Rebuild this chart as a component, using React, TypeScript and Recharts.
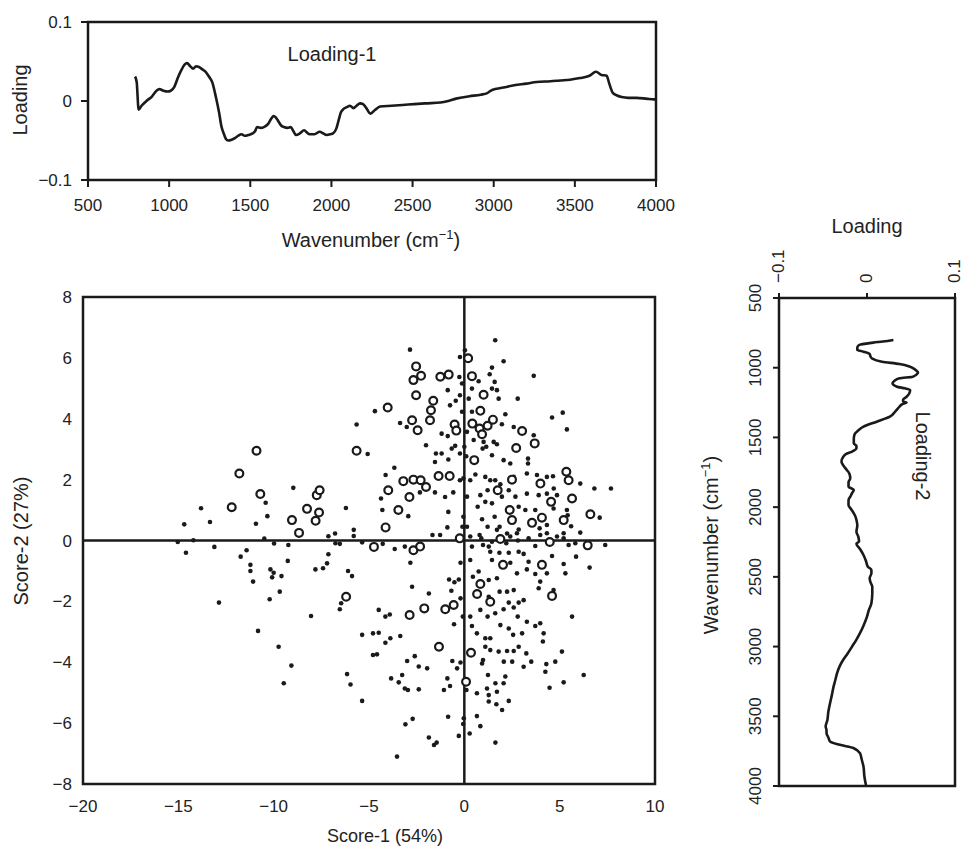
import React from 'react';
import {
  LineChart,
  Line,
  ScatterChart,
  Scatter,
  XAxis,
  YAxis,
  ReferenceArea,
  ReferenceLine,
} from 'recharts';

const FONT = "'Liberation Sans', Arial, Helvetica, sans-serif";
const INK = '#1a1a1a';
const TEXT = '#222';

// Loading-1 spectrum (wavenumber, loading)
const loading1Wavenumber = [
  790, 800, 812, 830, 860, 895, 922, 940, 965, 991, 1010, 1032, 1055, 1075, 1095, 1110, 1130, 1148, 1165, 1184,
  1205, 1225, 1245, 1267, 1288, 1308, 1322, 1336, 1350, 1363, 1385, 1405, 1425, 1446, 1466, 1488, 1515, 1530,
  1542, 1565, 1584, 1610, 1630, 1644, 1658, 1671, 1690, 1707, 1730, 1749, 1765, 1782, 1805, 1832, 1850, 1865,
  1895, 1928, 1950, 1970, 1995, 2010, 2030, 2045, 2057, 2075, 2092, 2115, 2135, 2155, 2176, 2195, 2215, 2240,
  2270, 2300, 2370, 2438, 2510, 2577, 2672, 2720, 2768, 2850, 2920, 2960, 2990, 3060, 3126, 3200, 3265, 3350,
  3408, 3470, 3532, 3590, 3630, 3665, 3696, 3712, 3735, 3760, 3788, 3830, 3880, 3940, 3988, 4000,
];
const loading1Values = [
  0.031, 0.024, -0.011, -0.006, 0.0, 0.006, 0.013, 0.015, 0.013, 0.012, 0.013, 0.018, 0.03, 0.039, 0.046, 0.048,
  0.044, 0.041, 0.044, 0.043, 0.04, 0.037, 0.031, 0.023, 0.005, -0.015, -0.032, -0.041, -0.048, -0.05, -0.049,
  -0.047, -0.044, -0.042, -0.044, -0.043, -0.041, -0.038, -0.033, -0.034, -0.033, -0.029, -0.022, -0.019, -0.021,
  -0.025, -0.031, -0.033, -0.034, -0.033, -0.038, -0.043, -0.041, -0.037, -0.04, -0.042, -0.042, -0.039, -0.041,
  -0.043, -0.042, -0.041, -0.035, -0.024, -0.015, -0.01, -0.008, -0.006, -0.009, -0.006, -0.003, -0.004, -0.009,
  -0.016, -0.011, -0.007, -0.006, -0.005, -0.004, -0.003, -0.002, 0.0, 0.003, 0.006, 0.008, 0.01, 0.014, 0.017,
  0.02, 0.022, 0.024, 0.025, 0.026, 0.027, 0.029, 0.032, 0.037, 0.033, 0.032, 0.022, 0.01, 0.007, 0.005, 0.004,
  0.004, 0.003, 0.002, 0.002,
];

// Loading-2 spectrum (wavenumber, loading)
const loading2Wavenumber = [
  801, 812, 820, 837, 855, 873, 885, 902, 920, 935, 957, 973, 993, 1015, 1035, 1050, 1064, 1076, 1095, 1112, 1136,
  1148, 1160, 1185, 1208, 1230, 1243, 1250, 1262, 1279, 1315, 1351, 1387, 1423, 1450, 1475, 1510, 1542, 1560, 1578,
  1602, 1620, 1638, 1674, 1700, 1733, 1760, 1793, 1820, 1853, 1877, 1900, 1925, 1950, 1984, 2015, 2044, 2070, 2092,
  2130, 2176, 2210, 2247, 2262, 2300, 2343, 2390, 2427, 2450, 2474, 2510, 2540, 2570, 2620, 2689, 2740, 2785, 2850,
  2904, 2950, 3000, 3050, 3095, 3140, 3191, 3240, 3287, 3350, 3406, 3470, 3526, 3574, 3600, 3621, 3650, 3681, 3705,
  3729, 3765, 3810, 3860, 3930, 4000,
];
const loading2Values = [
  0.03, 0.018, 0.007, -0.009, -0.011, -0.011, -0.004, 0.003, 0.004, 0.006, 0.017, 0.037, 0.049, 0.055, 0.058, 0.056,
  0.052, 0.037, 0.031, 0.029, 0.034, 0.043, 0.049, 0.048, 0.045, 0.041, 0.041, 0.045, 0.04, 0.037, 0.032, 0.026,
  0.011, -0.004, -0.01, -0.014, -0.015, -0.015, -0.012, -0.012, -0.017, -0.024, -0.027, -0.029, -0.027, -0.023,
  -0.02, -0.019, -0.021, -0.021, -0.015, -0.017, -0.019, -0.021, -0.021, -0.018, -0.015, -0.013, -0.012, -0.011,
  -0.012, -0.01, -0.009, -0.012, -0.008, -0.004, -0.001, 0.001, 0.005, 0.005, 0.003, 0.004, 0.006, 0.006, 0.005,
  0.002, 0.0, -0.004, -0.008, -0.012, -0.017, -0.022, -0.027, -0.031, -0.034, -0.036, -0.038, -0.04, -0.042, -0.044,
  -0.045, -0.047, -0.046, -0.046, -0.044, -0.042, -0.031, -0.015, -0.008, -0.006, -0.004, -0.003, -0.001,
];

// Score plot: small filled dots [score-1, score-2]
const scoreDots: [number, number][] = [
  [-13.81, 1.06], [-10.42, 1.24], [-10.33, 0.8], [-8.97, 1.73], [-6.21, 1.07], [-5.65, 3.81], [-5.07, 2.84],
  [-4.69, 4.25], [-2.85, 6.27], [-3.37, 3.86], [-3.02, 3.73], [-2.01, 3.13], [-1.49, 2.86], [-1.54, 2.58],
  [-1.19, 3.51], [-0.87, 3.43], [-0.75, 4.44], [-0.87, 4.94], [-0.45, 4.59], [-0.23, 4.77], [-0.26, 5.37],
  [0.03, 6.25], [-0.23, 6.03], [0.0, 3.08], [-0.23, 2.86], [-0.66, 3.02], [-1.19, 2.86], [-0.84, 2.66],
  [-3.67, 2.39], [-4.13, 2.15], [-4.37, 1.38], [-4.3, 1.0], [-2.94, 0.8], [-2.33, 1.58], [-1.54, 1.58],
  [-1.01, 1.43], [-0.58, 1.58], [-0.84, 0.94], [-0.05, 0.78], [-0.05, 2.04], [-0.23, 1.98], [-0.12, 4.23],
  [-0.12, 5.16], [-0.48, 3.11],
  [-14.69, 0.53], [-13.34, 0.61], [-10.93, 0.55], [-14.6, -0.4], [-13.11, -0.21], [-15.03, -0.05], [-14.21, 0.01],
  [-12.87, -2.04], [-11.73, -0.53], [-11.42, -0.32], [-11.22, -0.8], [-11.22, -1.0], [-11.08, -1.35],
  [-10.82, -2.97], [-10.21, -1.93], [-10.17, -0.95], [-10.08, -1.21], [-10.0, -1.06], [-9.59, -1.17],
  [-9.68, -1.68], [-9.74, -3.49], [-9.07, -4.11], [-9.47, -4.69], [-9.26, -0.67], [-9.23, -0.15], [-9.98, -0.1],
  [-10.49, 0.06], [-7.81, -0.95], [-7.41, -0.91], [-7.2, -0.75], [-7.13, -0.45], [-8.04, -2.48], [-6.76, -0.09],
  [-6.53, -0.11], [-7.13, 0.14], [-6.78, 0.23], [-6.1, -1.0], [-5.89, -1.17], [-6.53, -2.26], [-6.46, -2.06],
  [-6.15, -4.39], [-5.97, -4.73], [-5.36, -5.27], [-5.36, -3.1], [-4.79, -3.05], [-4.49, -3.03], [-4.79, -3.76],
  [-4.58, -3.74], [-4.49, -2.28], [-4.14, -2.5], [-3.91, -2.43], [-4.14, -3.36], [-3.88, -3.21], [-3.36, -3.14],
  [-3.84, -4.53], [-3.44, -4.66], [-3.26, -4.42], [-3.12, -4.86], [-2.96, -4.91], [-2.39, -4.89], [-3.53, -7.1],
  [-3.09, -6.04], [-2.71, -5.86], [-3.0, -3.96], [-2.6, -3.8], [-2.39, -4.14], [-1.95, -4.2], [-2.74, -1.52],
  [-2.83, -0.73], [-1.86, -1.74], [-1.86, -6.47], [-1.59, -6.72], [-1.45, -6.64], [-1.07, -4.91], [-0.89, -4.53],
  [-0.75, -4.78], [-0.63, -3.96], [-0.54, -2.75], [-0.8, -1.28], [-0.52, -1.37], [-0.29, -1.28], [-0.68, -1.65],
  [-0.2, -0.73], [-0.2, -1.9], [-0.85, -5.79], [-0.29, -6.42], [-0.06, -6.03], [-0.03, -5.84], [-0.2, -4.01],
  [-0.08, -2.5], [-0.38, -4.2], [-0.89, 0.43], [-1.67, 0.18], [-1.27, 0.18], [-5.36, -0.06], [-4.28, -0.11],
  [-3.65, -0.28], [-3.12, -0.2], [-5.8, 0.35], [-5.8, 0.15], [-0.1, 0.45],
  [1.62, 6.58], [2.06, 5.89], [3.64, 5.41], [1.45, 5.68], [1.33, 5.46], [1.59, 5.21], [1.45, 4.99], [1.71, 4.94],
  [1.8, 4.66], [0.75, 5.23], [0.4, 4.99], [0.23, 4.66], [2.8, 4.66], [2.15, 4.15], [1.97, 3.82], [4.6, 4.04],
  [5.16, 4.2], [5.38, 3.65], [2.59, 3.73], [3.64, 3.46], [0.49, 3.3], [1.01, 3.24], [1.54, 3.24], [1.71, 3.16],
  [0.96, 3.02], [1.15, 3.08], [1.45, 2.8], [2.06, 2.64], [2.41, 2.53], [3.34, 2.69], [3.34, 2.53], [0.1, 2.77],
  [0.4, 4.23], [0.14, 3.57], [2.59, 2.09], [3.28, 2.2], [3.81, 2.15], [4.33, 2.09], [4.65, 2.11], [6.08, 1.87],
  [6.82, 1.71], [7.69, 1.71], [1.1, 2.09], [1.36, 1.98], [1.62, 1.98], [1.89, 1.85], [1.22, 1.65], [0.84, 1.49],
  [0.31, 1.98], [0.58, 2.17], [0.14, 1.44], [0.7, 1.11], [1.1, 1.27], [1.45, 1.22], [1.97, 1.44], [2.68, 1.44],
  [2.33, 1.65], [3.28, 1.54], [3.9, 1.49], [4.33, 1.54], [4.69, 1.71], [4.86, 1.49], [2.85, 1.11], [3.2, 1.0],
  [3.72, 1.0], [4.68, 1.05], [5.38, 1.0], [5.42, 0.83], [7.1, 0.75], [1.59, 0.78], [0.93, 0.7], [1.22, 0.45],
  [1.85, 0.45], [2.24, 0.23], [2.85, 0.36], [3.95, 0.4], [4.33, 0.51], [5.6, 0.47],
  [0.14, 0.45], [0.31, 0.13], [0.4, -0.2], [0.8, 0.18], [0.98, -0.15], [1.28, -0.2], [1.36, -0.37], [0.89, 0.07],
  [1.45, -0.04], [1.71, 0.35], [2.2, -0.09], [2.41, 0.13], [2.76, 0.24], [2.81, 0.0], [3.37, 0.07], [3.72, -0.18],
  [3.98, 0.18], [4.33, 0.24], [4.86, 0.13], [5.21, 0.07], [5.21, 0.24], [5.47, -0.15], [5.82, -0.09], [6.08, 0.26],
  [7.39, -0.15],
  [0.31, -0.64], [1.45, -0.64], [1.84, -0.4], [2.33, -0.4], [2.85, -0.37], [3.11, -0.44], [3.37, -0.7],
  [3.28, -0.95], [3.72, -1.1], [4.33, -1.08], [4.6, -0.51], [5.3, -1.08], [5.86, -0.53], [6.57, -0.89],
  [5.21, -0.77], [0.75, -1.02], [2.41, -0.73], [2.76, -1.08], [0.31, -2.5], [0.45, -1.19], [1.28, -1.3],
  [1.71, -1.24], [1.85, -1.68], [2.24, -1.68], [2.59, -1.63], [1.28, -1.85], [2.33, -2.04], [2.85, -2.04],
  [3.11, -1.96], [3.98, -1.35], [3.9, -1.57], [4.68, -1.63], [0.84, -2.28], [1.22, -2.5], [1.62, -2.39],
  [2.06, -2.26], [2.59, -2.2], [2.8, -2.5], [5.65, -2.5], [0.4, -2.81], [0.66, -3.05], [1.89, -2.78],
  [2.33, -2.89], [2.56, -3.1], [3.03, -3.05], [3.28, -2.67], [3.72, -2.81], [3.98, -2.72], [4.16, -3.05],
  [4.12, -3.32], [1.1, -3.21], [1.36, -3.21], [1.1, -3.49], [1.36, -3.6], [1.8, -3.65], [2.24, -3.63],
  [2.59, -3.63], [2.07, -3.98], [2.51, -3.98], [2.85, -3.49], [3.25, -3.71], [3.51, -3.98], [3.11, -4.15],
  [4.3, -4.06], [4.77, -3.98], [5.12, -3.65], [4.25, -4.31], [6.26, -4.42], [5.21, -4.66], [4.47, -4.84],
  [0.98, -3.93], [0.93, -4.04], [0.66, -5.02], [1.19, -4.86], [1.28, -5.08], [1.63, -4.69], [1.71, -4.97],
  [2.06, -4.69], [2.15, -4.47], [1.28, -5.29], [1.68, -5.38], [1.98, -5.57], [2.33, -5.27], [1.24, -4.42],
  [0.11, -4.91], [0.66, -5.77], [0.84, -6.1], [0.28, -6.34], [1.63, -6.64],
];

// Score plot: open circles [score-1, score-2]
const scoreRings: [number, number][] = [
  [-10.9, 2.95], [-11.8, 2.2], [-10.7, 1.53], [-12.2, 1.09], [-9.04, 0.67], [-8.67, 0.25], [-8.25, 1.04],
  [-7.8, 0.65], [-7.62, 0.92], [-7.74, 1.49], [-7.59, 1.65], [-5.65, 2.95], [-4.02, 4.37], [-2.74, 3.95],
  [-2.53, 5.72], [-2.67, 5.27], [-2.27, 5.41], [-2.53, 4.77], [-1.63, 4.59], [-1.75, 4.28], [-1.8, 3.95],
  [-2.45, 3.62], [-1.26, 5.38], [-0.82, 5.45], [-0.51, 3.81], [-0.42, 3.61], [0.2, 5.99], [-3.99, 1.65],
  [-3.2, 1.95], [-2.67, 2.0], [-2.29, 1.98], [-2.01, 1.76], [-2.88, 1.43], [-3.46, 1.0], [-4.13, 0.43],
  [-1.35, 2.12], [-0.77, 2.12], [-0.24, 0.07], [-4.74, -0.21], [-2.67, -0.32], [-2.32, -0.2],
  [0.4, 5.4], [1.01, 4.79], [0.84, 4.26], [0.42, 3.84], [0.8, 3.68], [1.22, 3.77], [0.93, 3.49], [1.5, 3.97],
  [3.03, 3.6], [3.69, 3.19], [2.72, 3.04], [0.52, 2.64], [2.5, 2.0], [1.75, 1.65], [3.99, 1.87], [5.35, 2.26],
  [5.47, 1.98], [5.65, 1.38], [4.55, 1.27], [2.38, 1.0], [2.5, 0.67], [3.55, 0.58], [4.07, 0.75], [5.21, 0.67],
  [6.61, 0.86], [1.89, 0.05], [4.48, -0.05], [6.47, -0.16],
  [2.03, -0.8], [4.07, -0.8], [4.6, -1.82], [0.84, -1.43], [0.67, -1.76], [1.36, -2.01], [-0.56, -2.12],
  [-1.0, -2.26], [-2.1, -2.23], [-2.87, -2.45], [-1.33, -3.49], [0.35, -3.69], [0.09, -4.64], [-6.2, -1.85],
];

const wavenumberTicks = [500, 1000, 1500, 2000, 2500, 3000, 3500, 4000];
const loadingTicks = [-0.1, 0, 0.1];
const score1Ticks = [-20, -15, -10, -5, 0, 5, 10];
const score2Ticks = [-8, -6, -4, -2, 0, 2, 4, 6, 8];

const loading1Data = loading1Wavenumber.map((wn, i) => ({ wn, value: loading1Values[i] }));
const loading2Data = loading2Wavenumber.map((wn, i) => ({ wn, value: loading2Values[i] }));
const dotData = scoreDots.map(([x, y]) => ({ x, y }));
const ringData = scoreRings.map(([x, y]) => ({ x, y }));

const fmt = (v: number) => (v < 0 ? '\u2212' : '') + String(Math.abs(v));

const tickStyle = { fill: TEXT, fontSize: 17, fontFamily: FONT };
const tickLineStyle = { stroke: INK, strokeWidth: 2 };

// rotated tick labels for the vertical loading plot; baseline kept inside the page edge
function TopTick(props: any) {
  const { x, y, payload } = props;
  const bx = Math.min(x + 4.5, 951);
  return (
    <text x={bx} y={y} transform={`rotate(-90 ${bx} ${y})`} textAnchor="start" {...tickStyle}>
      {fmt(payload.value)}
    </text>
  );
}

function LeftTick(props: any) {
  const { x, y, payload } = props;
  return (
    <text x={x} y={y} transform={`rotate(-90 ${x} ${y})`} textAnchor="middle" {...tickStyle}>
      {fmt(payload.value)}
    </text>
  );
}

const Dot = (props: any) => <circle cx={props.cx} cy={props.cy} r={2.3} fill={INK} />;
const Ring = (props: any) => (
  <circle cx={props.cx} cy={props.cy} r={3.9} fill="#fff" stroke={INK} strokeWidth={2.2} />
);

function Titles() {
  const t = { fill: TEXT, fontFamily: FONT, fontSize: 20 };
  return (
    <svg width={961} height={846} style={{ position: 'absolute', left: 0, top: 0, pointerEvents: 'none' }}>
      <text x={20} y={100} dy="0.35em" textAnchor="middle" transform="rotate(-90 20 100)" {...t}>Loading</text>
      <text x={332} y={54} dy="0.35em" textAnchor="middle" {...t}>Loading-1</text>
      <text x={371} y={240} dy="0.35em" textAnchor="middle" {...t}>
        Wavenumber (cm<tspan dy={-8} fontSize={13}>{'\u22121'}</tspan><tspan dy={8}>)</tspan>
      </text>
      <text x={21} y={541} dy="0.35em" textAnchor="middle" transform="rotate(-90 21 541)" {...t}>Score-2 (27%)</text>
      <text x={385} y={836} dy="0.35em" textAnchor="middle" {...t} fontSize={18}>Score-1 (54%)</text>
      <text x={867} y={226} dy="0.35em" textAnchor="middle" {...t}>Loading</text>
      <text x={711} y={545} dy="0.35em" textAnchor="middle" transform="rotate(-90 711 545)" {...t}>
        Wavenumber (cm<tspan dy={-8} fontSize={13}>{'\u22121'}</tspan><tspan dy={8}>)</tspan>
      </text>
      <text x={923} y={456} dy="0.35em" textAnchor="middle" transform="rotate(90 923 456)" {...t}>Loading-2</text>
    </svg>
  );
}

export default function App() {
  return (
    <div style={{ position: 'absolute', left: 0, top: 0, width: 961, height: 846, background: '#fff', fontFamily: FONT }}>
      <div style={{ position: 'absolute', left: 0, top: 0 }}>
        <LineChart width={700} height={260} data={loading1Data} margin={{ top: 22, right: 44, bottom: 40, left: 0 }}>
          <XAxis
            type="number"
            dataKey="wn"
            domain={[500, 4000]}
            ticks={wavenumberTicks}
            interval={0}
            height={40}
            axisLine={false}
            tickSize={7}
            tickMargin={12}
            tickLine={tickLineStyle}
            tick={tickStyle}
            tickFormatter={fmt}
          />
          <YAxis
            type="number"
            domain={[-0.1, 0.1]}
            ticks={loadingTicks}
            interval={0}
            width={88}
            axisLine={false}
            tickSize={7}
            tickMargin={9}
            tickLine={tickLineStyle}
            tick={tickStyle}
            tickFormatter={fmt}
          />
          <Line dataKey="value" type="monotone" stroke={INK} strokeWidth={2.6} dot={false} isAnimationActive={false} />
          <ReferenceArea x1={500} x2={4000} y1={-0.1} y2={0.1} fill="none" stroke={INK} strokeWidth={2.5} />
        </LineChart>
      </div>

      <div style={{ position: 'absolute', left: 0, top: 260 }}>
        <ScatterChart width={700} height={586} margin={{ top: 37, right: 45, bottom: 22, left: 0 }}>
          <XAxis
            type="number"
            dataKey="x"
            domain={[-20, 10]}
            ticks={score1Ticks}
            interval={0}
            height={40}
            axisLine={false}
            tickLine={false}
            tickSize={0}
            tickMargin={16}
            tick={tickStyle}
            tickFormatter={fmt}
          />
          <YAxis
            type="number"
            dataKey="y"
            domain={[-8, 8]}
            ticks={score2Ticks}
            interval={0}
            width={83}
            axisLine={false}
            tickLine={false}
            tickSize={0}
            tickMargin={11}
            tick={tickStyle}
            tickFormatter={fmt}
          />
          <ReferenceArea x1={-20} x2={10} y1={-8} y2={8} fill="none" stroke={INK} strokeWidth={2.5} />
          <ReferenceLine x={0} stroke={INK} strokeWidth={2.5} />
          <ReferenceLine y={0} stroke={INK} strokeWidth={2.5} />
          <Scatter data={dotData} shape={Dot} isAnimationActive={false} />
          <Scatter data={ringData} shape={Ring} isAnimationActive={false} />
        </ScatterChart>
      </div>

      <div style={{ position: 'absolute', left: 700, top: 200 }}>
        <LineChart
          layout="vertical"
          width={261}
          height={646}
          data={loading2Data}
          margin={{ top: 58, right: 6, bottom: 60, left: 0 }}
        >
          <XAxis
            type="number"
            orientation="top"
            domain={[-0.1, 0.1]}
            ticks={loadingTicks}
            interval={0}
            height={40}
            axisLine={false}
            tickSize={5}
            tickMargin={10}
            tickLine={tickLineStyle}
            tick={(p: any) => <TopTick {...p} />}
          />
          <YAxis
            type="number"
            dataKey="wn"
            domain={[500, 4000]}
            ticks={wavenumberTicks}
            interval={0}
            width={79}
            axisLine={false}
            tickSize={6}
            tickMargin={12}
            tickLine={tickLineStyle}
            tick={(p: any) => <LeftTick {...p} />}
          />
          <Line dataKey="value" type="monotone" stroke={INK} strokeWidth={2.6} dot={false} isAnimationActive={false} />
          <ReferenceArea x1={-0.1} x2={0.1} y1={500} y2={4000} fill="none" stroke={INK} strokeWidth={2.5} />
        </LineChart>
      </div>

      <Titles />
    </div>
  );
}
